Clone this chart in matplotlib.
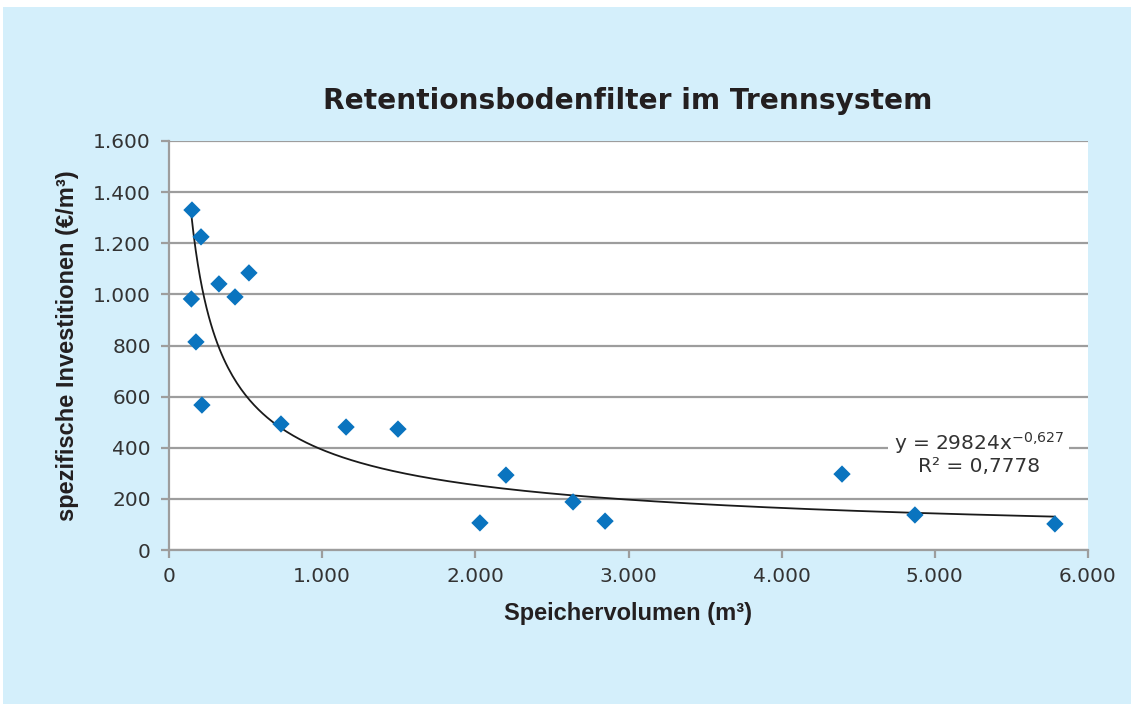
import numpy as np
import matplotlib.pyplot as plt
from matplotlib.patches import Rectangle
from matplotlib.ticker import FuncFormatter

# ---------------- data ----------------
volumen = [150, 209, 146, 176, 215, 326, 431, 522, 731, 1156, 1495,
           2030, 2200, 2638, 2847, 4394, 4870, 5784]
invest = [1330, 1225, 982, 814, 567, 1041, 990, 1084, 493, 481, 473,
          106, 293, 188, 113, 297, 137, 102]

fit_a = 29824
fit_b = -0.627
r2 = "0,7778"

x_ticks = [0, 1000, 2000, 3000, 4000, 5000, 6000]
y_ticks = [0, 200, 400, 600, 800, 1000, 1200, 1400, 1600]

plt.rcParams['font.family'] = ['DejaVu Sans']

bg = '#d4effb'
blue = '#0a74bf'
grid = '#9d9d9d'
txt = '#231f20'
label_font = ['Liberation Sans', 'DejaVu Sans']

fig = plt.figure(figsize=(11.31, 7.04), dpi=100, facecolor='white')
fig.patches.append(Rectangle((3 / 1131, 0), 1, 697 / 704, transform=fig.transFigure,
                             facecolor=bg, edgecolor='none', zorder=-10))

ax = fig.add_axes([169 / 1131, 154 / 704, 919 / 1131, 409 / 704])
ax.set_facecolor('white')

ax.set_xlim(0, 6000)
ax.set_ylim(0, 1600)
ax.set_xticks(x_ticks)
ax.set_yticks(y_ticks)

dots = FuncFormatter(lambda v, p: f"{int(v):,}".replace(",", "."))
ax.xaxis.set_major_formatter(dots)
ax.yaxis.set_major_formatter(dots)

ax.grid(axis='y', color=grid, linewidth=1.6, zorder=0)
for s in ['top', 'right']:
    ax.spines[s].set_visible(False)
for s in ['left', 'bottom']:
    ax.spines[s].set_color(grid)
    ax.spines[s].set_linewidth(1.6)
ax.tick_params(colors=grid, width=1.6, length=6, labelsize=14.5, labelcolor='#333333')
ax.tick_params(axis='y', pad=7)
ax.tick_params(axis='x', pad=6)

# power trend line
xs = np.linspace(min(volumen), max(volumen), 400)
ax.plot(xs, fit_a * xs ** fit_b, color='#1a1a1a', linewidth=1.3, zorder=2)

ax.scatter(volumen, invest, marker='D', s=78, color=blue, edgecolors='none', zorder=3)

ax.text(0.881, 0.237, "y = 29824x$^{\\mathregular{-0{,}627}}$\nR² = " + r2,
        transform=ax.transAxes, ha='center', va='center', fontsize=14.5,
        color='#333333', linespacing=1.1,
        bbox=dict(facecolor='white', edgecolor='none', pad=4), zorder=4)

fig.text(628 / 1131, 1 - 101 / 704, "Retentionsbodenfilter im Trennsystem",
         ha='center', va='center', fontsize=20.2, fontweight='bold', color=txt)
ax.set_xlabel("Speichervolumen (m³)", fontsize=17, fontweight='bold', color=txt,
              labelpad=12, family=label_font)
ax.set_ylabel("spezifische Investitionen (€/m³)", fontsize=17, fontweight='bold', color=txt,
              labelpad=10, family=label_font)

fig.savefig("out.png", dpi=100, facecolor=fig.get_facecolor())
